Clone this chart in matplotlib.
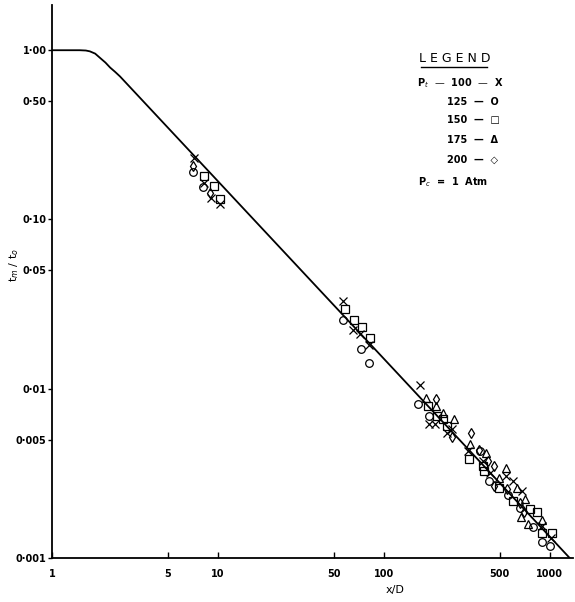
import numpy as np
import matplotlib
matplotlib.use("Agg")
import matplotlib.pyplot as plt
from matplotlib.lines import Line2D
from matplotlib.ticker import NullLocator

# decay curve
curve_x = [1.0, 1.47, 1.6, 1.69, 1.82, 1.95, 2.1, 2.24, 2.4, 2.57, 125.0, 1318.0]
curve_y = [1.0, 1.0, 0.996, 0.985, 0.955, 0.90, 0.845, 0.79, 0.745, 0.70, 0.0119, 0.001]

# Pt = 100  (X)
p100_x = [7.17, 8.24, 9.07, 10.28, 56.6, 65.1, 71.7, 81.2, 164.8, 186.7, 202.9,
          239.6, 256.8, 320.6, 394.9, 435.1, 543.1, 598.6, 678.3, 895.0, 1014.0]
p100_y = [0.2296, 0.1633, 0.1331, 0.1227, 0.0332, 0.0223, 0.0212, 0.0182, 0.0105,
          0.0062, 0.0062, 0.0055, 0.0058, 0.0043, 0.00375, 0.00318, 0.00306,
          0.00285, 0.00249, 0.00155, 0.00131]

# Pt = 125  (O)
p125_x = [7.07, 8.12, 56.6, 72.7, 81.2, 160.2, 186.7, 378.8, 429.2, 558.5, 659.7,
          790.3, 895.0, 1000.0]
p125_y = [0.1897, 0.1547, 0.0256, 0.01725, 0.01425, 0.00815, 0.00692, 0.0043,
          0.00285, 0.00236, 0.00198, 0.00153, 0.00124, 0.00118]

# Pt = 150  (square)
p150_x = [8.24, 9.46, 10.28, 58.2, 65.97, 73.7, 82.4, 184.1, 208.6, 226.7, 239.6,
          325.1, 394.9, 400.5, 493.0, 598.6, 757.9, 835.4, 895.0, 1028.0]
p150_y = [0.1797, 0.1568, 0.1313, 0.0297, 0.0256, 0.0233, 0.0200, 0.00793, 0.00692,
          0.00665, 0.00604, 0.00385, 0.0035, 0.00327, 0.0026, 0.00217, 0.00195,
          0.00187, 0.00141, 0.00141]

# Pt = 175  (triangle)
p175_x = [179.1, 205.7, 226.7, 264.0, 329.7, 411.7, 493.0, 543.1, 632.8, 707.1,
          668.9, 737.2, 895.0]
p175_y = [0.00885, 0.00793, 0.00721, 0.00665, 0.00473, 0.00418, 0.00297, 0.00341,
          0.0026, 0.00223, 0.00175, 0.00159, 0.00168]

# Pt = 200  (diamond)
p200_x = [7.07, 8.95, 205.7, 256.8, 334.3, 373.6, 423.3, 460.0, 460.0, 550.8,
          659.7, 697.4]
p200_y = [0.2059, 0.1425, 0.00873, 0.0052, 0.00549, 0.00436, 0.00375, 0.0035,
          0.00267, 0.00256, 0.00212, 0.00187]

x_ticks = [1, 5, 10, 50, 100, 500, 1000]
x_labels = ["1", "5", "10", "50", "100", "500", "1000"]
y_ticks = [1.0, 0.5, 0.1, 0.05, 0.01, 0.005, 0.001]
y_labels = ["1·00", "0·50", "0·10", "0·05", "0·01", "0·005", "0·001"]

W, H = 575, 602
fig = plt.figure(figsize=(W / 100, H / 100), dpi=100)
ax = fig.add_axes([52 / W, 1 - 558 / H, (573 - 52) / W, (558 - 5) / H])

ax.plot(curve_x, curve_y, color="black", lw=1.3)

mk = dict(ls="none", ms=5.5, mfc="none", mec="black", mew=0.9, color="black")
ax.plot(p100_x, p100_y, marker="x", **mk)
ax.plot(p125_x, p125_y, marker="o", **mk)
ax.plot(p150_x, p150_y, marker="s", **mk)
ax.plot(p175_x, p175_y, marker="^", **mk)
ax.plot(p200_x, p200_y, marker="d", **mk)

ax.set_xscale("log")
ax.set_yscale("log")
ax.set_xlim(1, 1380)
ax.set_ylim(0.001, 1.85)
ax.set_xticks(x_ticks)
ax.set_xticklabels(x_labels, fontweight="bold")
ax.set_yticks(y_ticks)
ax.set_yticklabels(y_labels, fontweight="bold")
ax.xaxis.set_minor_locator(NullLocator())
ax.yaxis.set_minor_locator(NullLocator())
ax.tick_params(axis="x", direction="in", length=4, width=1, labelsize=7, pad=8)
ax.tick_params(axis="y", direction="out", length=3, width=1, labelsize=7, pad=1)
for s in ["top", "right"]:
    ax.spines[s].set_visible(False)
for s in ["left", "bottom"]:
    ax.spines[s].set_linewidth(1.3)

fig.text(395 / W, 1 - 590 / H, "x/D", fontsize=8, ha="center", va="center")
fig.text(14 / W, 1 - 265 / H, "t$_m$ / t$_o$", fontsize=8, rotation=90,
         ha="center", va="center")

# legend written as text, like the original
lg = dict(fontsize=7, va="center", fontweight="bold")
fig.text(455 / W, 1 - 58 / H, "L E G E N D", fontsize=9, ha="center", va="center")
fig.add_artist(Line2D([421 / W, 487 / W], [1 - 67 / H, 1 - 67 / H],
                      color="black", lw=1.0, transform=fig.transFigure))
fig.text(417 / W, 1 - 83 / H, "P$_t$  —  100  —  X", **lg)
fig.text(447 / W, 1 - 102 / H, "125  —  O", **lg)
fig.text(447 / W, 1 - 120 / H, "150  —  □", **lg)
fig.text(447 / W, 1 - 140 / H, "175  —  Δ", **lg)
fig.text(447 / W, 1 - 160 / H, "200  —  ◇", **lg)
fig.text(418 / W, 1 - 182 / H, "P$_c$  =  1  Atm", **lg)

fig.savefig("out.png", dpi=100)
